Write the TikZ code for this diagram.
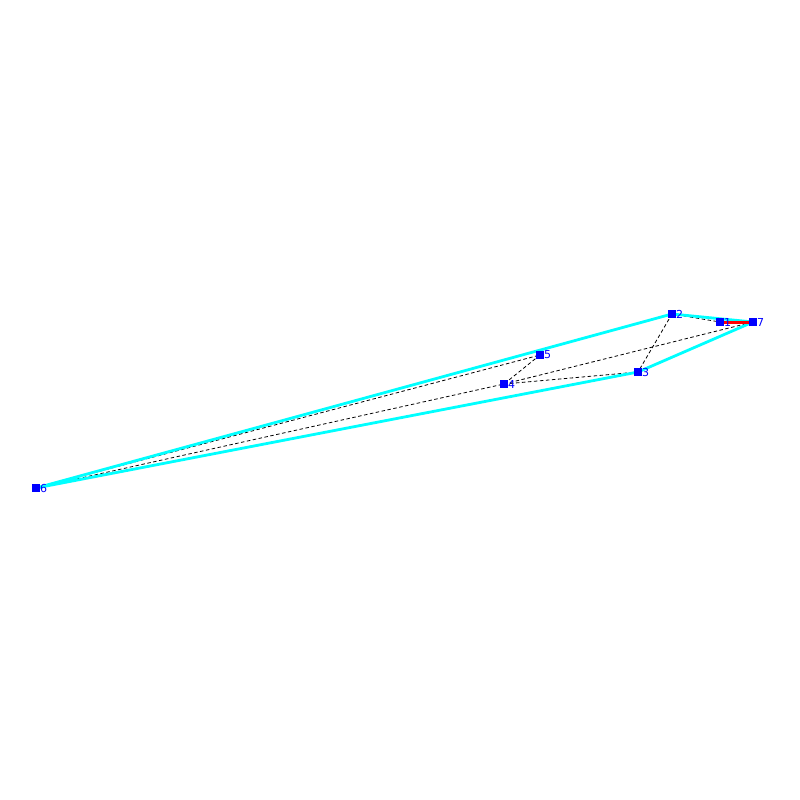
\documentclass[tikz,border=0pt]{standalone}
\usepackage{fontspec}
\setmainfont{DejaVu Sans}
\definecolor{hullcyan}{RGB}{0,255,255}
\definecolor{vblue}{RGB}{0,0,255}
\definecolor{hotred}{RGB}{255,0,0}
\begin{document}
\begin{tikzpicture}[x=1pt,y=-1pt,
  vtx/.style={fill=vblue,minimum size=7.5pt,inner sep=0pt,outer sep=0pt},
  lbl/.style={text=vblue,font=\fontsize{11}{11}\selectfont,anchor=west,inner sep=0pt},
  hull/.style={hullcyan,line width=2.8pt},
  edge/.style={black,line width=0.8pt,dash pattern=on 3.5pt off 2.5pt},
  hot/.style={hotred,line width=3pt}]
\useasboundingbox (0,0) rectangle (800,800);
\coordinate (p1) at (720,322);
\coordinate (p2) at (672,314);
\coordinate (p3) at (638,372);
\coordinate (p4) at (504,384);
\coordinate (p5) at (540,355);
\coordinate (p6) at (36,488);
\coordinate (p7) at (753,322);
% dashed edges
\draw[edge] (p6) -- (p5);
\draw[edge] (p6) -- (p4);
\draw[edge] (p5) -- (p4);
\draw[edge] (p4) -- (p3);
\draw[edge] (p4) -- (p7);
\draw[edge] (p2) -- (p3);
\draw[edge] (p2) -- (p1);
% hull
\draw[hull,line join=round] (p6) -- (p2) -- (p7) -- (p3) -- cycle;
\draw[hot] (p1) -- (p7);
% vertices
\foreach \i in {1,...,7} {
  \node[vtx] (n\i) at (p\i) {};
  \node[lbl] (l\i) at ([xshift=4pt]p\i) {\i};
}
\end{tikzpicture}
\end{document}
